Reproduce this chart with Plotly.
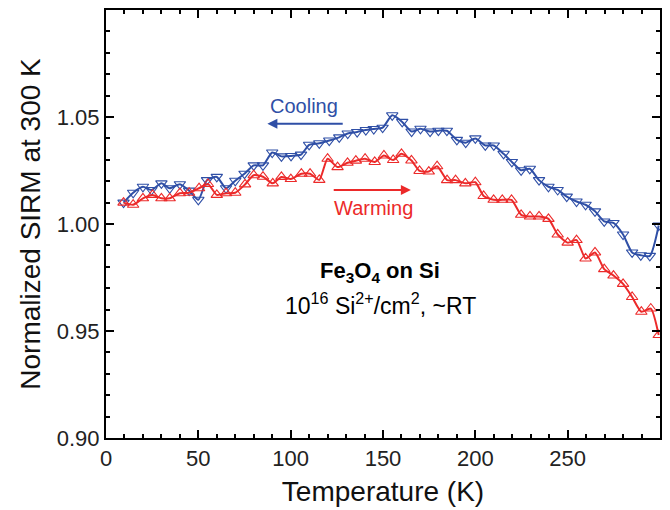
import plotly.graph_objects as go

# Cooling (down triangles)
cool_T = [9.5, 14.7, 20.0, 24.6, 30.0, 34.5, 40.0, 45.0, 50.0, 54.7, 60.0, 65.0, 70.0, 75.0,
          80.0, 85.0, 90.0, 95.0, 100.2, 105.6, 110.0, 115.5, 120.9, 126.3, 130.9, 136.0,
          140.7, 145.0, 149.8, 155.0, 160.4, 165.5, 170.3, 175.5, 180.0, 184.6, 190.0, 194.8,
          200.0, 205.4, 210.0, 215.3, 219.8, 224.8, 229.5, 234.5, 239.6, 244.6, 249.5, 254.8,
          259.7, 264.8, 269.8, 274.8, 280.0, 284.9, 289.6, 294.5, 299.3]
cool_v = [1.0100, 1.0146, 1.0174, 1.0159, 1.0190, 1.0167, 1.0186, 1.0156, 1.0113, 1.0205,
          1.0220, 1.0167, 1.0202, 1.0235, 1.0274, 1.0274, 1.0334, 1.0316, 1.0318, 1.0324,
          1.0370, 1.0377, 1.0390, 1.0405, 1.0423, 1.0430, 1.0439, 1.0444, 1.0450, 1.0508,
          1.0477, 1.0432, 1.0445, 1.0432, 1.0436, 1.0436, 1.0393, 1.0380, 1.0400, 1.0367,
          1.0367, 1.0328, 1.0290, 1.0251, 1.0258, 1.0205, 1.0174, 1.0159, 1.0128, 1.0105,
          1.0090, 1.0059, 1.0012, 1.0005, 0.9951, 0.9867, 0.9854, 0.9851, 0.9993]

# Warming (up triangles)
warm_T = [9.5, 14.7, 20.0, 25.2, 30.0, 34.5, 40.0, 45.0, 50.4, 55.2, 60.0, 65.0, 70.0, 75.3,
          80.0, 85.0, 90.3, 95.0, 100.1, 105.8, 110.5, 115.5, 120.0, 125.4, 130.8, 135.3,
          140.3, 145.5, 150.5, 155.5, 160.0, 165.4, 169.8, 174.8, 179.3, 184.7, 189.3, 194.6,
          200.0, 204.5, 209.9, 214.6, 219.6, 224.8, 229.6, 234.5, 239.6, 244.6, 250.0, 254.8,
          259.7, 264.8, 269.8, 274.8, 280.0, 284.9, 289.9, 295.0, 299.3]
warm_v = [1.0100, 1.0090, 1.0120, 1.0136, 1.0120, 1.0120, 1.0144, 1.0146, 1.0167, 1.0187,
          1.0136, 1.0144, 1.0146, 1.0185, 1.0228, 1.0221, 1.0190, 1.0220, 1.0210, 1.0235,
          1.0235, 1.0206, 1.0305, 1.0266, 1.0286, 1.0296, 1.0305, 1.0290, 1.0320, 1.0299,
          1.0328, 1.0297, 1.0248, 1.0245, 1.0270, 1.0205, 1.0205, 1.0190, 1.0195, 1.0131,
          1.0113, 1.0113, 1.0113, 1.0043, 1.0035, 1.0035, 1.0024, 0.9951, 0.9913, 0.9925,
          0.9839, 0.9867, 0.9789, 0.9759, 0.9720, 0.9659, 0.9590, 0.9605, 0.9481]

x_range = [0, 300]
y_range = [0.90, 1.10]
x_ticks = [0, 50, 100, 150, 200, 250]
y_ticks = [0.90, 0.95, 1.00, 1.05]

BLUE = "#2F4FA6"
RED = "#EC2A2A"
FONT = "Liberation Sans, Arial, sans-serif"

fig = go.Figure()
fig.add_trace(go.Scatter(
    x=cool_T, y=cool_v, mode="lines+markers", name="Cooling",
    line=dict(color=BLUE, width=2, shape="spline", smoothing=0.6),
    marker=dict(symbol="triangle-down-open", size=10, color=BLUE, line=dict(width=1.1, color=BLUE)),
))
fig.add_trace(go.Scatter(
    x=warm_T, y=warm_v, mode="lines+markers", name="Warming",
    line=dict(color=RED, width=2, shape="spline", smoothing=0.6),
    marker=dict(symbol="triangle-up-open", size=10, color=RED, line=dict(width=1.1, color=RED)),
))

axis_common = dict(
    showgrid=False, zeroline=False, showline=True, linecolor="black", linewidth=2,
    mirror="allticks", ticks="inside", ticklen=8, tickwidth=2, tickcolor="black",
    tickfont=dict(family=FONT, size=22, color="#222"),
)
fig.update_xaxes(
    range=x_range, tickvals=x_ticks, **axis_common,
    minor=dict(dtick=10, ticks="inside", ticklen=4, tickwidth=1.5, tickcolor="black"),
    title=dict(text="Temperature (K)", font=dict(family=FONT, size=28, color="#111"), standoff=11),
)
fig.update_yaxes(
    range=y_range, tickvals=y_ticks, tickformat=".2f", **axis_common,
    minor=dict(dtick=0.01, ticks="inside", ticklen=4, tickwidth=1.5, tickcolor="black"),
    title=dict(text="Normalized SIRM at 300 K", font=dict(family=FONT, size=28, color="#111"), standoff=8),
)

annots = [
    dict(x=107.4, y=1.0551, text="Cooling", showarrow=False,
         font=dict(family=FONT, size=20, color=BLUE)),
    dict(x=87.4, y=1.0468, ax=129.0, ay=1.0468, axref="x", ayref="y", text="",
         showarrow=True, arrowhead=2, arrowsize=1, arrowwidth=2, arrowcolor=BLUE),
    dict(x=144.6, y=1.0076, text="Warming", showarrow=False,
         font=dict(family=FONT, size=20, color=RED)),
    dict(x=165.1, y=1.0159, ax=122.5, ay=1.0159, axref="x", ayref="y", text="",
         showarrow=True, arrowhead=2, arrowsize=1, arrowwidth=2, arrowcolor=RED),
    dict(x=148.6, y=0.9775, text="<b>Fe<sub>3</sub>O<sub>4</sub> on Si</b>", showarrow=False,
         font=dict(family=FONT, size=22, color="black")),
    dict(x=148.6, y=0.9625, text="10<sup>16</sup> Si<sup>2+</sup>/cm<sup>2</sup>, ~RT", showarrow=False,
         font=dict(family=FONT, size=23, color="black")),
]
for a in annots:
    a.update(xref="x", yref="y")
    fig.add_annotation(**a)

fig.update_layout(
    width=670, height=510,
    margin=dict(l=106, r=8, t=10, b=69),
    paper_bgcolor="white", plot_bgcolor="white",
    showlegend=False,
    font=dict(family=FONT),
)

fig.write_html("out.html")
